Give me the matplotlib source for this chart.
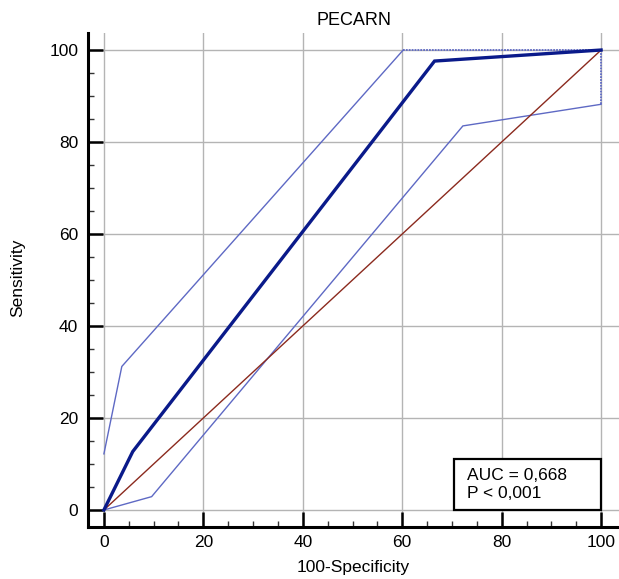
import matplotlib
matplotlib.use("Agg")
import matplotlib.pyplot as plt
from matplotlib.ticker import MultipleLocator
from matplotlib.patches import Rectangle

plt.rcParams['font.family'] = ['Liberation Sans', 'DejaVu Sans']

# ROC curve (100-Specificity, Sensitivity)
roc_x = [0, 5.8, 66.5, 100]
roc_y = [0, 12.7, 97.6, 100]

# Upper confidence bound
upper_x = [0, 3.6, 60.2, 100]
upper_y = [12.2, 31.2, 100, 100]

# Lower confidence bound
lower_x = [0, 9.6, 72.2, 100, 100]
lower_y = [0, 2.9, 83.5, 88.2, 100]

diag_x = [0, 100]
diag_y = [0, 100]

title = "PECARN"
xlabel = "100-Specificity"
ylabel = "Sensitivity"
auc_text = "AUC = 0,668\nP < 0,001"

FS = 12.5

fig = plt.figure(figsize=(6.19, 5.79), dpi=100)
ax = fig.add_axes([88/619, 52/579, 1 - 88/619, (527 - 33)/579])

ax.set_xlim(-3.2, 103.6)
ax.set_ylim(-3.7, 103.7)

band_color = '#5e69c4'
ax.plot(upper_x[:3], upper_y[:3], color=band_color, lw=1.0, zorder=3)
ax.plot(upper_x[2:], upper_y[2:], color=band_color, lw=1.3, ls=(0, (1, 0.6)), zorder=3)
ax.plot(lower_x[:4], lower_y[:4], color=band_color, lw=1.0, zorder=3)
ax.plot(lower_x[3:], lower_y[3:], color=band_color, lw=1.3, ls=(0, (1, 0.6)), zorder=3)
ax.plot(diag_x, diag_y, color='#8b2a1e', lw=1.0, zorder=3)
ax.plot(roc_x, roc_y, color='#0a1a8a', lw=2.4, zorder=4, solid_joinstyle='miter')

ax.xaxis.set_major_locator(MultipleLocator(20))
ax.yaxis.set_major_locator(MultipleLocator(20))
ax.xaxis.set_minor_locator(MultipleLocator(5))
ax.yaxis.set_minor_locator(MultipleLocator(5))

ax.grid(True, which='major', color='#b4b4b4', lw=1.0, zorder=0)
ax.set_axisbelow(True)

for s in ['top', 'right']:
    ax.spines[s].set_visible(False)
for s in ['left', 'bottom']:
    ax.spines[s].set_linewidth(2.2)
    ax.spines[s].set_color('black')

ax.tick_params(which='major', direction='in', length=11, width=1.8, labelsize=FS, colors='black')
ax.tick_params(which='minor', direction='in', length=4.5, width=1.0, colors='#333333')
ax.tick_params(axis='x', which='major', pad=6)
ax.tick_params(axis='y', which='major', pad=7)

ax.set_xlabel(xlabel, fontsize=FS, va='center')
ax.xaxis.set_label_coords(0.5, (527 - 567.5) / 494)
ax.set_ylabel(ylabel, fontsize=FS, va='center')
ax.yaxis.set_label_coords((17.5 - 88) / 531, (527 - 278) / 494)
ax.set_title(title, fontsize=FS + 0.5, pad=6)

ax.text(73.0, 5.5, auc_text, fontsize=FS, ha='left', va='center', linespacing=1.22,
        zorder=6)
ax.add_patch(Rectangle((70.4, 0), 29.6, 11.1, facecolor='white', edgecolor='black',
                       lw=1.6, zorder=5))

fig.savefig("out.png", dpi=100)
